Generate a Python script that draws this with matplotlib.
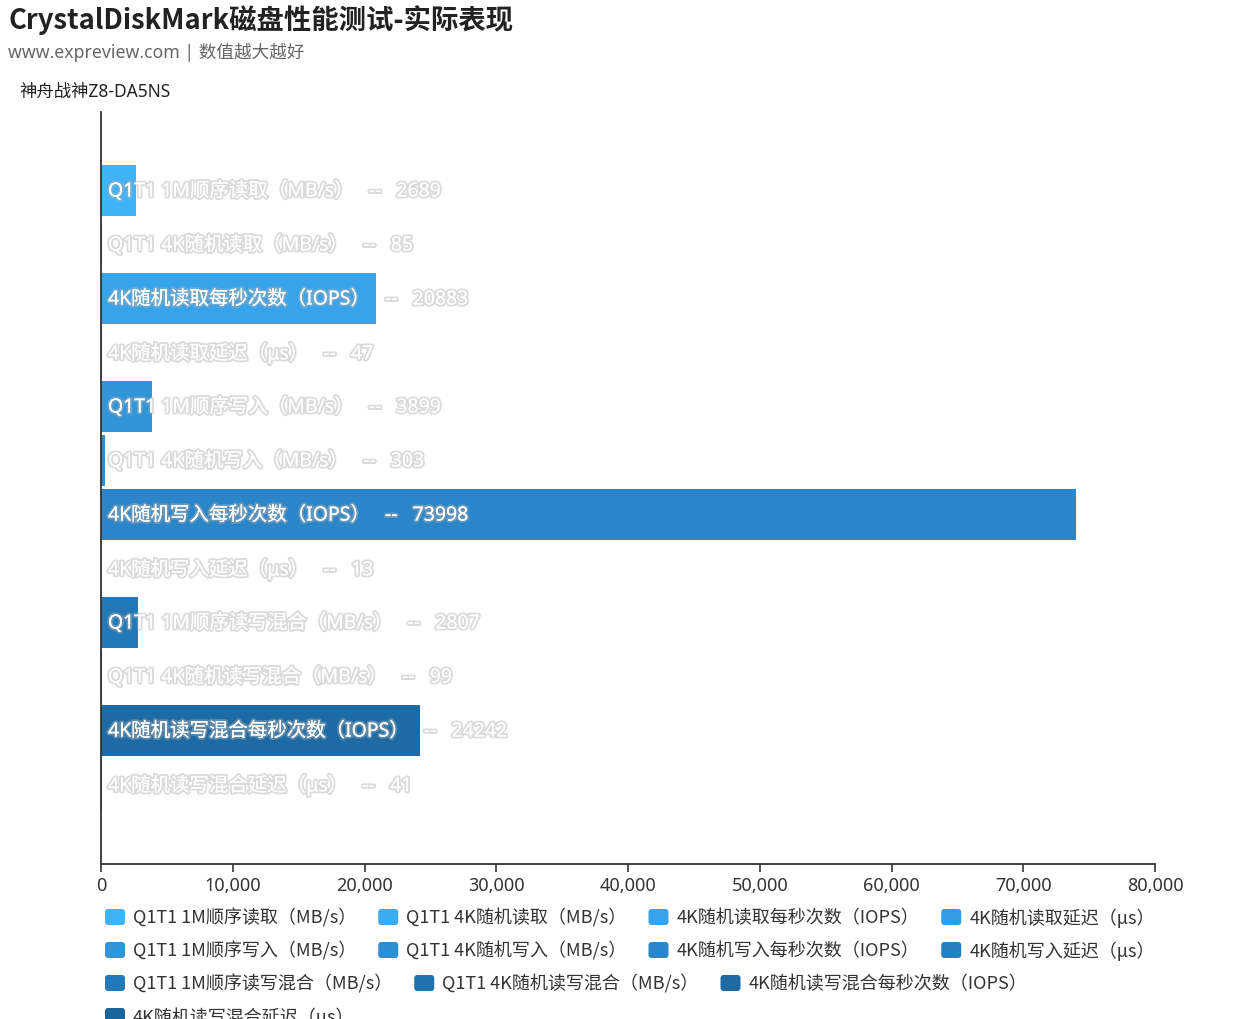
import matplotlib
matplotlib.use('Agg')
import matplotlib.pyplot as plt
import matplotlib.patheffects as pe
from matplotlib.patches import FancyBboxPatch
from matplotlib.transforms import IdentityTransform
from matplotlib.ticker import FuncFormatter

plt.rcParams['font.family'] = ['Noto Sans', 'Noto Sans CJK SC', 'DejaVu Sans']
cjk = ['Noto Sans CJK SC', 'DejaVu Sans']

title = 'CrystalDiskMark磁盘性能测试-实际表现'
subtitle = 'www.expreview.com | 数值越大越好'
axis_name = '神舟战神Z8-DA5NS'

series_names = [
    'Q1T1 1M顺序读取（MB/s）', 'Q1T1 4K随机读取（MB/s）', '4K随机读取每秒次数（IOPS）', '4K随机读取延迟（μs）',
    'Q1T1 1M顺序写入（MB/s）', 'Q1T1 4K随机写入（MB/s）', '4K随机写入每秒次数（IOPS）', '4K随机写入延迟（μs）',
    'Q1T1 1M顺序读写混合（MB/s）', 'Q1T1 4K随机读写混合（MB/s）', '4K随机读写混合每秒次数（IOPS）', '4K随机读写混合延迟（μs）',
]
values = [2689, 85, 20883, 47, 3899, 303, 73998, 13, 2807, 99, 24242, 41]
bar_colors = ['#40b2f8', '#3cabf2', '#37a3ea', '#349ce2', '#3195da', '#2e8ed2',
              '#2a86c8', '#2680c0', '#2379b8', '#2072ae', '#1d6ba5', '#1a659c']
legend_rows = [4, 4, 3, 1]
x_max = 80000
x_ticks = list(range(0, 80001, 10000))

W, H = 1255, 1020
fig = plt.figure(figsize=(W / 100, H / 100), dpi=100)
ax = fig.add_axes([101 / W, 1 - 865 / H, (1155 - 101) / W, (865 - 113) / H])

pos = list(range(len(values)))
ax.barh(pos, values, height=0.95, color=bar_colors, zorder=2)
ax.set_ylim(len(values) - 1 + 79.5 / 54, -78.5 / 54)
ax.set_xlim(0, x_max)
ax.set_xticks(x_ticks)
ax.xaxis.set_major_formatter(FuncFormatter(lambda v, p: f'{int(v):,}'))
ax.set_yticks([])
for s in ['top', 'right']:
    ax.spines[s].set_visible(False)
for s in ['left', 'bottom']:
    ax.spines[s].set_color('#333333')
    ax.spines[s].set_linewidth(1.3)
ax.tick_params(axis='x', length=6, width=1.2, color='#333333', labelcolor='#333333',
               labelsize=13, pad=3)

halo = [pe.withStroke(linewidth=2.8, foreground='#b0b0b0', alpha=0.45), pe.Normal()]
for i, (name, v) in enumerate(zip(series_names, values)):
    ax.annotate(f'{name}   --   {v}', xy=(0, i), xytext=(7, -1), textcoords='offset pixels',
                ha='left', va='center', color='white', fontsize=14, zorder=3,
                path_effects=halo)

fig.text(8 / W, 1 - 20 / H, title, ha='left', va='center', fontsize=19.7,
         fontweight='bold', color='#222222', family=cjk)
fig.text(8 / W, 1 - 52 / H, subtitle, ha='left', va='center', fontsize=12.7, color='#666666')
fig.text(19 / W, 1 - 92 / H, axis_name, ha='left', va='center', fontsize=12.5, color='#222222')

# legend, flowed by hand in pixel coordinates
renderer = fig.canvas.get_renderer()
idx = 0
row_y = [918, 951, 984, 1017]
for r, n in enumerate(legend_rows):
    x = 105
    y = H - row_y[r]
    for k in range(n):
        name = series_names[idx]
        fig.add_artist(FancyBboxPatch((x + 2, y - 6), 16, 12, boxstyle='round,pad=2,rounding_size=3',
                                      transform=IdentityTransform(), facecolor=bar_colors[idx],
                                      edgecolor='none'))
        t = fig.text((x + 28) / W, y / H, name, ha='left', va='center', fontsize=13,
                     color='#333333', family=cjk)
        w = t.get_window_extent(renderer).width
        x = x + 28 + w + 22
        idx += 1

fig.savefig('out.png', dpi=100)
